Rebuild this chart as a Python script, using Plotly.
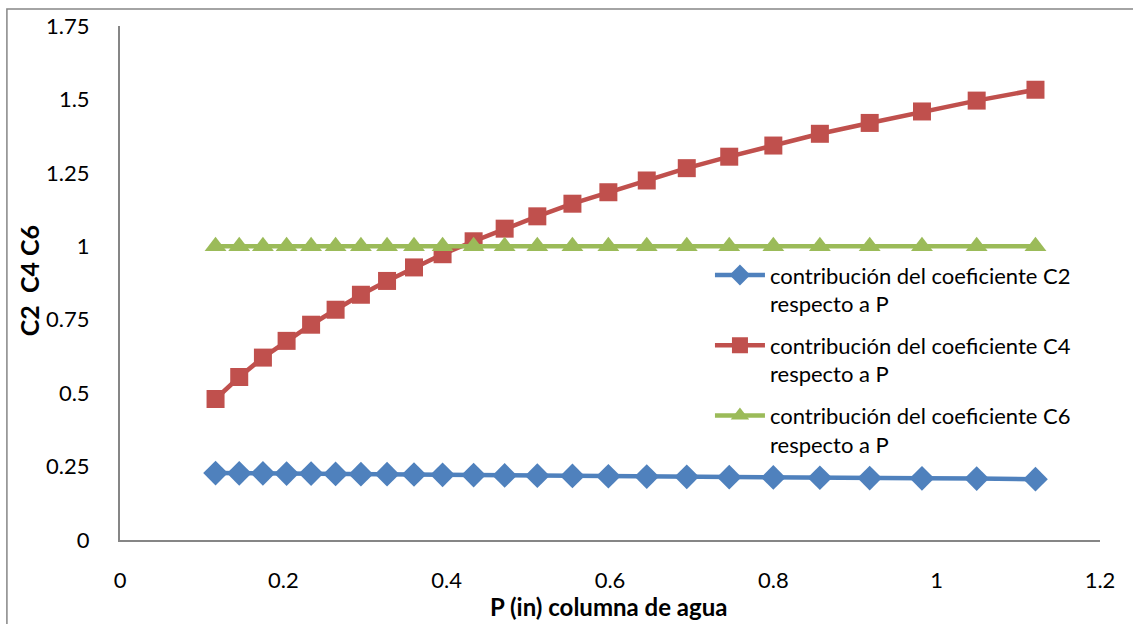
import plotly.graph_objects as go

# Data
p_in = [0.117, 0.146, 0.175, 0.204, 0.234, 0.264, 0.295, 0.327, 0.360, 0.395,
        0.433, 0.471, 0.511, 0.554, 0.598, 0.645, 0.694, 0.746, 0.800, 0.857,
        0.918, 0.982, 1.049, 1.121]
c2 = [0.228, 0.227, 0.227, 0.226, 0.226, 0.225, 0.224, 0.224, 0.223, 0.222,
      0.221, 0.220, 0.219, 0.218, 0.217, 0.216, 0.215, 0.214, 0.213, 0.212,
      0.211, 0.210, 0.209, 0.207]
c4 = [0.480, 0.555, 0.621, 0.678, 0.733, 0.784, 0.835, 0.882, 0.928, 0.973,
      1.017, 1.060, 1.102, 1.145, 1.184, 1.224, 1.266, 1.305, 1.343, 1.383,
      1.420, 1.459, 1.496, 1.533]
c6 = [1.0] * 24

series_names = [
    "contribución del coeficiente C2<br>respecto a P",
    "contribución del coeficiente C4<br>respecto a P",
    "contribución del coeficiente C6<br>respecto a P",
]
y_tickvals = [0, 0.25, 0.5, 0.75, 1, 1.25, 1.5, 1.75]
y_ticktext = ["0", "0.25", "0.5", "0.75", "1", "1.25", "1.5", "1.75"]
x_tickvals = [0, 0.2, 0.4, 0.6, 0.8, 1, 1.2]
x_ticktext = ["0", "0.2", "0.4", "0.6", "0.8", "1", "1.2"]

FONT = "Lato"
fig = go.Figure()
fig.add_trace(go.Scatter(x=p_in, y=c2, mode="lines+markers", name=series_names[0],
                         legendgroup="g1",
                         line=dict(color="#4F81BD", width=4.5),
                         marker=dict(symbol="diamond", size=19, color="#4F81BD")))
fig.add_trace(go.Scatter(x=p_in, y=c4, mode="lines+markers", name=series_names[1],
                         legendgroup="g2",
                         line=dict(color="#C0504D", width=4.5),
                         marker=dict(symbol="square", size=18, color="#C0504D")))
fig.add_trace(go.Scatter(x=p_in, y=c6, mode="lines+markers", name=series_names[2],
                         legendgroup="g3",
                         line=dict(color="#9BBB59", width=4.5),
                         marker=dict(symbol="triangle-up", size=19, color="#9BBB59")))

fig.update_layout(
    width=1133, height=624,
    margin=dict(l=120, r=33, t=23, b=84),
    paper_bgcolor="white", plot_bgcolor="white",
    font=dict(family=FONT, size=22, color="black"),
    showlegend=True,
    legend=dict(x=0.602, y=0.556, xanchor="left", yanchor="top",
                bgcolor="rgba(0,0,0,0)", font=dict(size=22, family=FONT),
                valign="top", tracegroupgap=10, itemwidth=50),
    xaxis=dict(range=[0, 1.2], tickvals=x_tickvals, ticktext=x_ticktext,
               showgrid=False, zeroline=False, showline=True,
               linecolor="#868686", linewidth=2, ticks="",
               ticklabelstandoff=20, tickfont=dict(size=22)),
    yaxis=dict(range=[0, 1.75], tickvals=y_tickvals, ticktext=y_ticktext,
               showgrid=False, zeroline=False, showline=True,
               linecolor="#868686", linewidth=2, ticks="",
               ticklabelstandoff=24, tickfont=dict(size=22)),
    annotations=[
        dict(text="<b>P (in) columna de agua</b>", xref="paper", yref="paper",
             x=0.4985, y=-0.129, xanchor="center", yanchor="middle",
             showarrow=False, font=dict(size=24, family=FONT)),
        dict(text="<b>C2&nbsp;&nbsp;C4 C6</b>", xref="paper", yref="paper",
             x=-0.092, y=0.505, xanchor="center", yanchor="middle", textangle=-90,
             showarrow=False, font=dict(size=25, family=FONT)),
    ],
    shapes=[dict(type="rect", xref="paper", yref="paper",
                 x0=-0.1154, y0=-0.3, x1=1.2, y1=1.033,
                 line=dict(color="#868686", width=1.5), layer="below")],
)

fig.write_html("out.html")
